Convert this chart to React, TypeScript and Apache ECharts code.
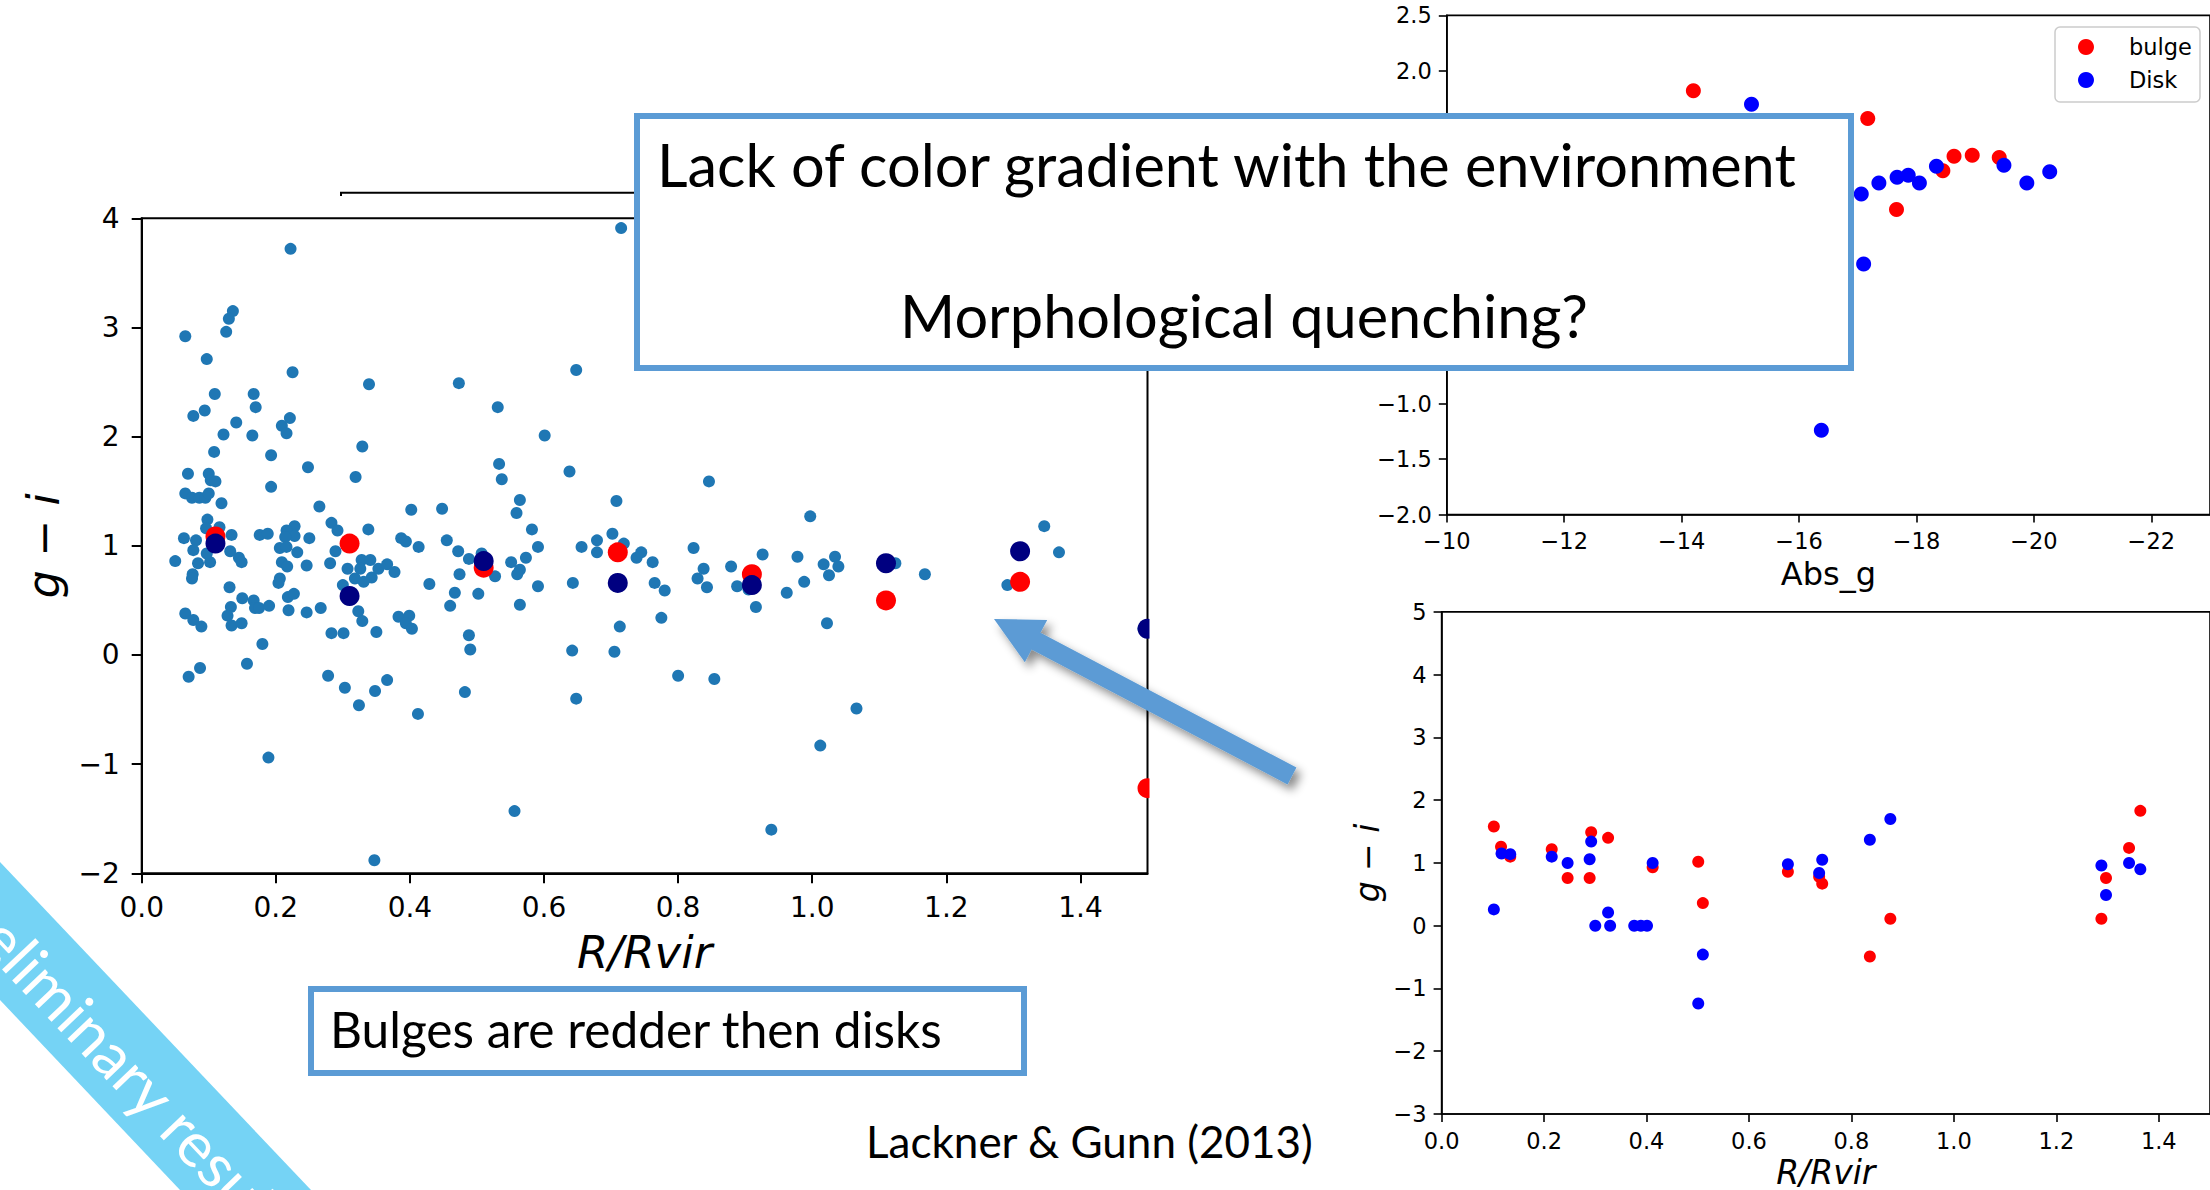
import React, { useEffect, useRef } from "react";
import * as echarts from "echarts";

// g - i colour against R/Rvir for every galaxy in the sample
const galaxyPoints: [number, number][] = [
  [0.222, 3.72], [0.136, 3.15], [0.13, 3.08], [0.065, 2.92], [0.126, 2.96], [0.097, 2.71], [0.225, 2.59],
  [0.339, 2.48], [0.473, 2.49], [0.109, 2.39], [0.167, 2.39], [0.17, 2.27], [0.077, 2.19], [0.094, 2.24],
  [0.141, 2.13], [0.221, 2.17], [0.209, 2.1], [0.216, 2.03], [0.122, 2.02], [0.165, 2.01], [0.108, 1.86],
  [0.329, 1.91], [0.193, 1.83], [0.248, 1.72], [0.069, 1.66], [0.1, 1.66], [0.103, 1.6], [0.11, 1.59],
  [0.319, 1.63], [0.193, 1.54], [0.065, 1.48], [0.075, 1.44], [0.086, 1.44], [0.095, 1.44], [0.1, 1.48],
  [0.119, 1.39], [0.265, 1.36], [0.402, 1.33], [0.448, 1.34], [0.098, 1.24], [0.283, 1.21], [0.292, 1.14],
  [0.338, 1.15], [0.228, 1.18], [0.216, 1.14], [0.116, 1.17], [0.096, 1.16], [0.063, 1.07], [0.081, 1.05],
  [0.134, 1.1], [0.176, 1.1], [0.188, 1.11], [0.228, 1.09], [0.214, 1.08], [0.25, 1.07], [0.387, 1.07],
  [0.394, 1.04], [0.455, 1.05], [0.413, 0.99],
  [0.077, 0.96], [0.05, 0.86], [0.084, 0.84], [0.102, 0.85], [0.097, 0.93], [0.132, 0.95], [0.145, 0.89],
  [0.149, 0.85], [0.076, 0.74], [0.075, 0.7], [0.131, 0.62], [0.065, 0.38], [0.077, 0.32], [0.089, 0.26],
  [0.15, 0.52], [0.167, 0.5], [0.133, 0.44], [0.169, 0.43], [0.175, 0.43], [0.19, 0.45], [0.128, 0.36],
  [0.134, 0.27], [0.149, 0.29], [0.18, 0.1], [0.157, -0.08], [0.087, -0.12], [0.07, -0.2], [0.189, -0.94],
  [0.206, 0.98], [0.216, 0.99], [0.232, 0.94], [0.209, 0.85], [0.217, 0.81], [0.246, 0.82], [0.206, 0.7],
  [0.204, 0.66], [0.218, 0.53], [0.227, 0.56], [0.219, 0.41], [0.246, 0.39], [0.267, 0.43], [0.281, 0.84],
  [0.289, 0.95], [0.307, 0.79], [0.3, 0.64], [0.318, 0.7], [0.328, 0.87], [0.341, 0.87], [0.326, 0.79],
  [0.343, 0.71], [0.331, 0.67], [0.353, 0.79], [0.366, 0.83], [0.377, 0.76], [0.323, 0.4], [0.329, 0.31],
  [0.283, 0.2], [0.301, 0.2], [0.35, 0.21], [0.383, 0.35], [0.399, 0.36], [0.394, 0.29], [0.403, 0.24],
  [0.278, -0.19], [0.303, -0.3], [0.324, -0.46], [0.348, -0.33], [0.366, -0.23], [0.412, -0.54],
  [0.347, -1.88], [0.472, 0.95], [0.488, 0.88], [0.474, 0.74], [0.429, 0.65], [0.467, 0.57], [0.46, 0.45],
  [0.488, 0.18], [0.49, 0.05], [0.482, -0.34],
  [0.715, 3.91], [0.648, 2.61], [0.531, 2.27], [0.601, 2.01], [0.533, 1.75], [0.537, 1.61], [0.638, 1.68],
  [0.846, 1.59], [0.564, 1.42], [0.559, 1.3], [0.708, 1.41], [0.582, 1.15], [0.997, 1.27], [0.702, 1.11],
  [0.679, 1.05], [0.656, 0.99], [0.591, 0.99], [0.719, 1.02], [0.823, 0.98],
  [0.502, 0.56], [0.527, 0.72], [0.551, 0.85], [0.573, 0.89], [0.564, 0.78], [0.56, 0.74], [0.591, 0.63],
  [0.564, 0.46], [0.643, 0.66], [0.679, 0.94], [0.738, 0.89], [0.745, 0.94], [0.762, 0.85], [0.765, 0.66],
  [0.78, 0.59], [0.713, 0.26], [0.775, 0.34], [0.642, 0.04], [0.705, 0.03], [0.8, -0.19], [0.854, -0.22],
  [0.648, -0.4], [0.556, -1.43], [0.939, -1.6], [0.838, 0.79], [0.829, 0.7], [0.843, 0.62], [0.879, 0.81],
  [0.888, 0.63], [0.905, 0.6], [0.916, 0.44], [0.926, 0.92], [0.978, 0.9], [0.962, 0.57], [0.988, 0.67],
  [0.507, 0.93],
  [1.017, 0.83], [1.034, 0.9], [1.039, 0.81], [1.025, 0.73], [1.124, 0.84], [1.168, 0.74], [1.022, 0.29],
  [1.066, -0.49], [1.012, -0.83], [1.291, 0.64], [1.368, 0.94], [1.494, 0.24], [1.346, 1.18],
];

// binned medians in R/Rvir
const binR = [0.11, 0.31, 0.51, 0.71, 0.91, 1.11, 1.31, 1.5];
const binBulgeGI = [1.085, 1.02, 0.8, 0.94, 0.74, 0.5, 0.67, -1.22];
const binDiskGI = [1.02, 0.54, 0.86, 0.66, 0.64, 0.84, 0.95, 0.24];

// bulge / disk colour against absolute g magnitude
const bulgeAbsG = [-14.2, -17.17, -17.66, -18.45, -18.64, -18.95, -19.41];
const bulgeAbsGI = [1.82, 1.57, 0.75, 1.1, 1.23, 1.24, 1.22];
const diskAbsG = [-15.19, -17.06, -17.36, -17.67, -17.86, -18.05, -18.34, -19.49, -19.88, -20.27, -17.1, -16.38];
const diskAbsGI = [1.7, 0.89, 0.99, 1.04, 1.06, 0.99, 1.14, 1.15, 0.99, 1.09, 0.26, -1.24];

// bulge / disk colour against R/Rvir
const bulgeR = [0.102, 0.116, 0.134, 0.215, 0.246, 0.289, 0.292, 0.325, 0.412, 0.501, 0.51, 0.676, 0.737, 0.743, 0.836, 0.876, 1.288, 1.297, 1.342, 1.364];
const bulgeGI = [1.58, 1.26, 1.1, 1.22, 0.76, 0.76, 1.49, 1.4, 0.93, 1.02, 0.36, 0.86, 0.78, 0.67, -0.49, 0.11, 0.11, 0.76, 1.24, 1.83];
const diskR = [0.102, 0.117, 0.134, 0.215, 0.246, 0.289, 0.292, 0.3, 0.325, 0.329, 0.376, 0.389, 0.401, 0.412, 0.501, 0.51, 0.676, 0.737, 0.743, 0.836, 0.876, 1.288, 1.297, 1.342, 1.364];
const diskGI = [0.26, 1.15, 1.14, 1.1, 1.0, 1.06, 1.34, 0.0, 0.21, 0.0, 0.0, 0.0, 0.0, 1.0, -1.24, -0.46, 0.98, 0.84, 1.05, 1.37, 1.7, 0.96, 0.49, 1.0, 0.9];

// tick positions and labels
const rTicks = [0, 0.2, 0.4, 0.6, 0.8, 1.0, 1.2, 1.4];
const absGTicks = [-10, -12, -14, -16, -18, -20, -22];
const absGColourLabels = [2.5, 2.0, -1.0, -1.5, -2.0];
const legendNames = ["bulge", "Disk"];
const legendColours = ["#ff0000", "#0000ff"];

const MINUS = "\u2212";
const fmtInt = (v: number) => (v < 0 ? MINUS : "") + Math.abs(v).toFixed(0);
const fmt1 = (v: number) => (v < 0 ? MINUS : "") + Math.abs(v).toFixed(1);

const zip = (xs: number[], ys: number[]) => xs.map((x, i) => [x, ys[i]]);

const PLOT_FONT = "DejaVu Sans";
const SLIDE_FONT = "Lato";
const ACCENT = "#5b9bd5";

function arrowPoints(tip: number[], tail: number[], headLen: number, headHalf: number, shaftHalf: number) {
  const dx = tip[0] - tail[0];
  const dy = tip[1] - tail[1];
  const len = Math.hypot(dx, dy);
  const ux = dx / len, uy = dy / len;
  const nx = -uy, ny = ux;
  const bx = tip[0] - ux * headLen, by = tip[1] - uy * headLen;
  return [
    tip,
    [bx + nx * headHalf, by + ny * headHalf],
    [bx + nx * shaftHalf, by + ny * shaftHalf],
    [tail[0] + nx * shaftHalf, tail[1] + ny * shaftHalf],
    [tail[0] - nx * shaftHalf, tail[1] - ny * shaftHalf],
    [bx - nx * shaftHalf, by - ny * shaftHalf],
    [bx - nx * headHalf, by - ny * headHalf],
  ];
}

export default function App() {
  const ref = useRef<HTMLDivElement>(null);

  useEffect(() => {
    if (!ref.current) return;
    const chart = echarts.init(ref.current, undefined, { renderer: "svg" });

    const axisLine = (w: number) => ({ show: true, onZero: false, lineStyle: { color: "#000", width: w } });
    const tick = (len: number, w: number, custom?: number[]) => ({
      show: true, inside: false, length: len, lineStyle: { color: "#000", width: w },
      ...(custom ? { customValues: custom } : {}),
    });
    const label = (size: number, margin: number, formatter: (v: number) => string, custom?: number[]) => ({
      show: true, fontSize: size, fontFamily: PLOT_FONT, color: "#000", margin, formatter,
      ...(custom ? { customValues: custom } : {}),
    });

    // legend box drawn next to the magnitude panel
    const legendGraphics: any[] = [
      {
        type: "rect", z: 20, shape: { x: 2055, y: 27, width: 145, height: 75, r: 5 },
        style: { fill: "rgba(255,255,255,0.8)", stroke: "#cccccc", lineWidth: 1.5 },
      },
    ];
    legendNames.forEach((name, i) => {
      const cy = 47 + i * 33;
      legendGraphics.push(
        { type: "circle", z: 21, shape: { cx: 2086, cy, r: 8 }, style: { fill: legendColours[i] } },
        {
          type: "text", z: 21, x: 2129, y: cy,
          style: { text: name, fontSize: 22.5, fontFamily: PLOT_FONT, fill: "#000", align: "left", verticalAlign: "middle" },
        },
      );
    });

    const option: any = {
      animation: false,
      backgroundColor: "#ffffff",
      grid: [
        { left: 141.7, top: 218.3, width: 1005.8, height: 655, show: true, borderColor: "#000", borderWidth: 2, backgroundColor: "transparent", containLabel: false },
        { left: 1446.8, top: 15.4, width: 766, height: 499.2, show: true, borderColor: "#000", borderWidth: 1.6, backgroundColor: "transparent", containLabel: false },
        { left: 1441.6, top: 611.9, width: 775, height: 502.5, show: true, borderColor: "#000", borderWidth: 1.6, backgroundColor: "transparent", containLabel: false },
      ],
      xAxis: [
        {
          gridIndex: 0, type: "value", min: 0, max: 1.5,
          axisLine: axisLine(2), axisTick: tick(10, 2, rTicks), axisLabel: label(28, 20, fmt1, rTicks),
          splitLine: { show: false },
          name: "R/Rvir", nameLocation: "middle", nameGap: 57,
          nameTextStyle: { fontSize: 45, fontStyle: "italic", fontFamily: PLOT_FONT, color: "#000" },
        },
        {
          gridIndex: 1, type: "value", min: -23, max: -10, inverse: true,
          axisLine: axisLine(1.6), axisTick: tick(8, 1.6, absGTicks), axisLabel: label(22.5, 15, fmtInt, absGTicks),
          splitLine: { show: false },
          name: "Abs_g", nameLocation: "middle", nameGap: 43,
          nameTextStyle: { fontSize: 32, fontFamily: PLOT_FONT, color: "#000" },
        },
        {
          gridIndex: 2, type: "value", min: 0, max: 1.5,
          axisLine: axisLine(1.6), axisTick: tick(8, 1.6, rTicks), axisLabel: label(22.5, 15, fmt1, rTicks),
          splitLine: { show: false },
          name: "R/Rvir", nameLocation: "middle", nameGap: 42,
          nameTextStyle: { fontSize: 33, fontStyle: "italic", fontFamily: PLOT_FONT, color: "#000" },
        },
      ],
      yAxis: [
        {
          gridIndex: 0, type: "value", min: -2, max: 4, interval: 1,
          axisLine: axisLine(2), axisTick: tick(10, 2), axisLabel: label(28, 22, fmtInt),
          splitLine: { show: false },
          name: "g \u2212 i", nameLocation: "middle", nameGap: 76, nameRotate: 90,
          nameTextStyle: { fontSize: 44, fontStyle: "italic", fontFamily: PLOT_FONT, color: "#000" },
        },
        {
          gridIndex: 1, type: "value", min: -2, max: 2.5, interval: 0.5,
          axisLine: axisLine(1.6), axisTick: tick(8, 1.6), axisLabel: label(22.5, 15, fmt1, absGColourLabels),
          splitLine: { show: false },
        },
        {
          gridIndex: 2, type: "value", min: -3, max: 5, interval: 1,
          axisLine: axisLine(1.6), axisTick: tick(8, 1.6), axisLabel: label(22.5, 15, fmtInt),
          splitLine: { show: false },
          name: "g \u2212 i", nameLocation: "middle", nameGap: 58, nameRotate: 90,
          nameTextStyle: { fontSize: 33, fontStyle: "italic", fontFamily: PLOT_FONT, color: "#000" },
        },
      ],
      series: [
        {
          type: "scatter", xAxisIndex: 0, yAxisIndex: 0, data: galaxyPoints,
          symbolSize: 12, itemStyle: { color: "#1f77b4", opacity: 1 }, silent: true,
        },
        {
          type: "scatter", xAxisIndex: 0, yAxisIndex: 0, data: zip(binR, binBulgeGI),
          symbolSize: 20, itemStyle: { color: "#ff0000", opacity: 1 }, silent: true,
        },
        {
          type: "scatter", xAxisIndex: 0, yAxisIndex: 0, data: zip(binR, binDiskGI),
          symbolSize: 20, itemStyle: { color: "#000080", opacity: 1 }, silent: true,
        },
        {
          name: "bulge", type: "scatter", xAxisIndex: 1, yAxisIndex: 1, data: zip(bulgeAbsG, bulgeAbsGI),
          symbolSize: 15, itemStyle: { color: "#ff0000", opacity: 1 }, silent: true,
        },
        {
          name: "Disk", type: "scatter", xAxisIndex: 1, yAxisIndex: 1, data: zip(diskAbsG, diskAbsGI),
          symbolSize: 15, itemStyle: { color: "#0000ff", opacity: 1 }, silent: true,
        },
        {
          name: "bulge", type: "scatter", xAxisIndex: 2, yAxisIndex: 2, data: zip(bulgeR, bulgeGI),
          symbolSize: 12, itemStyle: { color: "#ff0000", opacity: 1 }, silent: true,
        },
        {
          name: "Disk", type: "scatter", xAxisIndex: 2, yAxisIndex: 2, data: zip(diskR, diskGI),
          symbolSize: 12, itemStyle: { color: "#0000ff", opacity: 1 }, silent: true,
        },
      ],
      graphic: [
        // trims the markers that sit on the right edge of the main panel
        { type: "rect", z: 10, shape: { x: 1149.5, y: 610, width: 14, height: 195 }, style: { fill: "#ffffff" } },
        // stray frame edge above the main panel
        { type: "line", z: 10, shape: { x1: 340, y1: 192.7, x2: 640, y2: 192.7 }, style: { stroke: "#000", lineWidth: 2 } },
        { type: "line", z: 10, shape: { x1: 341, y1: 192, x2: 341, y2: 196 }, style: { stroke: "#000", lineWidth: 2 } },
        ...legendGraphics,
        // headline box
        {
          type: "rect", z: 30, shape: { x: 637, y: 116, width: 1214, height: 252 },
          style: { fill: "#ffffff", stroke: ACCENT, lineWidth: 6 },
        },
        {
          type: "text", z: 31, x: 657, y: 164,
          style: { text: "Lack of color gradient with the environment", fontSize: 59.5, fontFamily: SLIDE_FONT, fill: "#000", align: "left", verticalAlign: "middle" },
        },
        {
          type: "text", z: 31, x: 1244, y: 315,
          style: { text: "Morphological quenching?", fontSize: 59.5, fontFamily: SLIDE_FONT, fill: "#000", align: "center", verticalAlign: "middle" },
        },
        // note box
        {
          type: "rect", z: 30, shape: { x: 311, y: 989, width: 713, height: 84 },
          style: { fill: "#ffffff", stroke: ACCENT, lineWidth: 6 },
        },
        {
          type: "text", z: 31, x: 330, y: 1029,
          style: { text: "Bulges are redder then disks", fontSize: 49.6, fontFamily: SLIDE_FONT, fill: "#000", align: "left", verticalAlign: "middle" },
        },
        {
          type: "text", z: 31, x: 866, y: 1141,
          style: { text: "Lackner & Gunn (2013)", fontSize: 44, fontFamily: SLIDE_FONT, fill: "#000", align: "left", verticalAlign: "middle" },
        },
        // pointer arrow
        {
          type: "polygon", z: 40,
          shape: { points: arrowPoints([994, 619], [1292, 776], 47.5, 24, 9.5) },
          style: { fill: ACCENT, shadowBlur: 10, shadowColor: "rgba(0,0,0,0.45)", shadowOffsetX: 5, shadowOffsetY: 6 },
        },
        // corner ribbon
        {
          type: "polygon", z: 50,
          shape: { points: [[0, 862], [311, 1190], [180, 1190], [0, 1000]] },
          style: { fill: "#75d3f5" },
        },
        {
          type: "text", z: 51, x: -46, y: 884, rotation: -Math.atan(1.055),
          style: { text: "Preliminary results", fontSize: 62, fontFamily: SLIDE_FONT, fill: "#ffffff", align: "left", verticalAlign: "middle" },
        },
      ],
    };

    chart.setOption(option);
    return () => chart.dispose();
  }, []);

  return <div ref={ref} style={{ position: "absolute", left: 0, top: 0, width: 2210, height: 1190 }} />;
}
